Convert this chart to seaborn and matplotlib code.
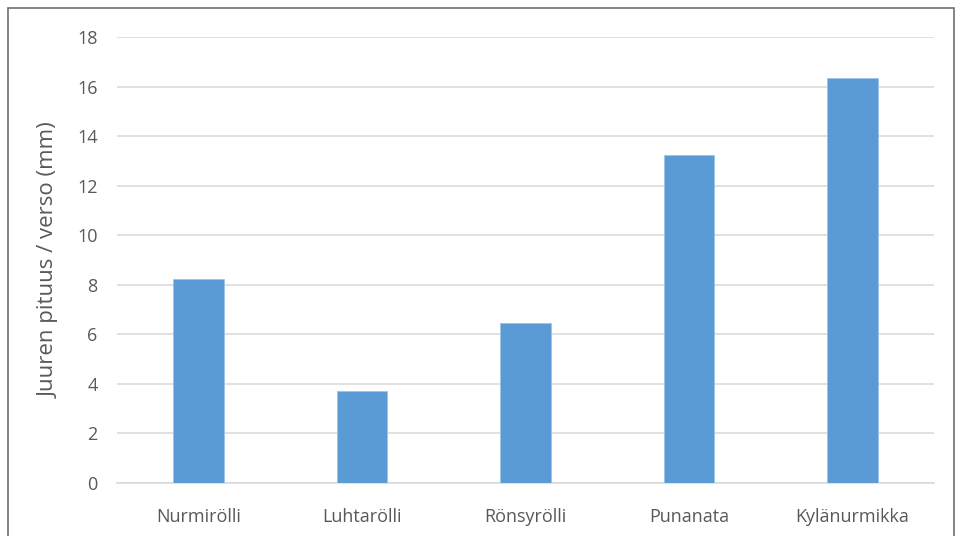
import matplotlib
matplotlib.use("Agg")
import matplotlib.pyplot as plt
import seaborn as sns
import pandas as pd

# data
lajit = ["Nurmirölli", "Luhtarölli", "Rönsyrölli", "Punanata", "Kylänurmikka"]
pituus = [8.25, 3.72, 6.47, 13.25, 16.35]
y_ticks = [0, 2, 4, 6, 8, 10, 12, 14, 16, 18]

sns.set_theme(style="white")
plt.rcParams["font.family"] = ["Open Sans", "DejaVu Sans"]

df = pd.DataFrame({"laji": lajit, "pituus": pituus})

fig = plt.figure(figsize=(9.62, 5.36), dpi=100)
ax = fig.add_axes([0.1216, 0.0989, 0.8494, 0.8321])

sns.barplot(data=df, x="laji", y="pituus", color="#5b9bd5", saturation=1,
            width=0.31, ax=ax, zorder=3, edgecolor="#9dc3e6", linewidth=0.6)

ax.set_ylim(0, 18)
ax.set_yticks(y_ticks)
ax.yaxis.grid(True, color="#d9d9d9", linewidth=1.1, zorder=0)
ax.set_axisbelow(True)
for side in ["top", "right", "left"]:
    ax.spines[side].set_visible(False)
ax.spines["bottom"].set_color("#d9d9d9")
ax.spines["bottom"].set_linewidth(1.1)
ax.tick_params(axis="both", length=0, labelsize=13, colors="#595959")
ax.tick_params(axis="x", pad=18)
ax.tick_params(axis="y", pad=14)
ax.set_xlabel("")
ax.set_ylabel("Juuren pituus / verso (mm)", fontsize=16, color="#595959", labelpad=12)

# outer frame of the chart
frame = plt.Rectangle((8 / 962, -0.05), 946 / 962, 1 - 8 / 536 + 0.05,
                      transform=fig.transFigure, fill=False,
                      edgecolor="#6f6f6f", linewidth=1.2)
fig.patches.append(frame)

fig.savefig("out.png", dpi=100)
